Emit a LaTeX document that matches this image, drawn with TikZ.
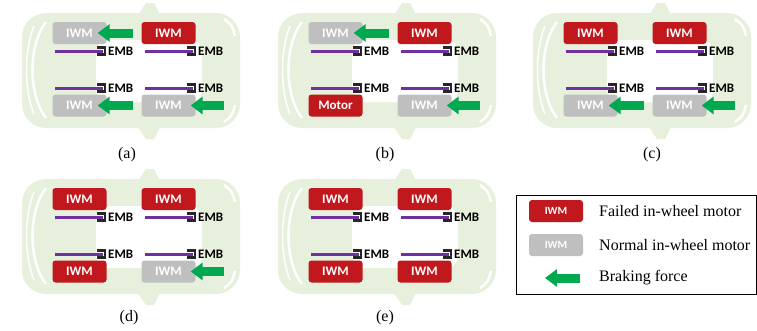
\documentclass[tikz,border=0pt]{standalone}
\usepackage{fontspec}
\setmainfont{Liberation Serif}
\newfontfamily\calibri{Carlito}
\usetikzlibrary{arrows.meta}

\definecolor{iwmred}{RGB}{192,24,28}
\definecolor{iwmgray}{RGB}{191,191,191}
\definecolor{brakegreen}{RGB}{0,168,80}
\definecolor{embpurple}{RGB}{112,48,160}
\definecolor{carbody}{RGB}{231,239,221}

\tikzset{
  failed/.style={fill=iwmred, rounded corners=3pt, minimum width=54pt, minimum height=22pt,
    inner sep=0pt, text=white, font=\calibri\bfseries\fontsize{13}{13}\selectfont},
  normal/.style={failed, fill=iwmgray},
  brake/.style={draw=brakegreen, line width=9pt, -{Triangle[length=12pt,width=17pt]}},
  disc/.style={draw=embpurple, line width=3pt},
  caliper/.style={draw=black!85, line width=2.2pt},
  emblabel/.style={font=\calibri\bfseries\fontsize{13}{13}\selectfont, inner sep=0pt, anchor=west},
  caption/.style={font=\fontsize{16}{16}\selectfont, inner sep=0pt},
}

% top view of the car, front to the right
\newcommand{\carbody}{%
  \fill[carbody] (138,15) -- (146,3) -- (154,3) -- (160,15) -- cycle; % mirrors
  \fill[carbody] (138,127) -- (146,139) -- (154,139) -- (160,127) -- cycle;
  \fill[carbody, rounded corners=24pt] (22,13) rectangle (240,128);
  \fill[white, rounded corners=12pt] (96,40) rectangle (202,102); % cabin
  \draw[white, line width=2.5pt] (46,22) .. controls (28,45) and (28,95) .. (46,118); % rear window
  \draw[white, line width=1.5pt] (34,26) .. controls (24,50) and (24,90) .. (34,114);
  \draw[white, line width=2.5pt] (224,19) .. controls (232,25) .. (235,36); % lights
  \draw[white, line width=2.5pt] (224,122) .. controls (232,116) .. (235,105);
}
% disc, caliper and label: name, end of disc, height
\newcommand{\emb}[3]{%
  \draw[disc] (#2-48,#3) -- (#2,#3);
  \draw[caliper] (#2-6,#3-3.5) -- (#2+2,#3-3.5) -- (#2+2,#3+3.5) -- (#2-6,#3+3.5);
  \node[emblabel] (#1) at (#2+5,#3) {EMB};
}

\begin{document}
\begin{tikzpicture}[x=1pt,y=-1pt]
  \useasboundingbox (0,0) rectangle (757,330);

  % (a) front left motor failed
  \begin{scope}
    \carbody
    \emb{aemb1}{103}{51} \emb{aemb2}{193}{51}
    \emb{aemb3}{103}{88} \emb{aemb4}{193}{88}
    \node[normal] (aRL) at (79.5,33) {IWM};
    \node[failed] (aFL) at (168.5,33) {IWM};
    \node[normal] (aRR) at (79.5,105.5) {IWM};
    \node[normal] (aFR) at (168.5,105.5) {IWM};
    \draw[brake] ([xshift=26pt]aRL.east) -- ([xshift=-9pt]aRL.east);
    \draw[brake] ([xshift=26pt]aRR.east) -- ([xshift=-9pt]aRR.east);
    \draw[brake] ([xshift=28pt]aFR.east) -- ([xshift=-5pt]aFR.east);
    \node[caption] (capa) at (127,155) {(a)};
  \end{scope}

  % (b) rear right wheel driven by a motor
  \begin{scope}[shift={(256,0)}]
    \carbody
    \emb{bemb1}{103}{51} \emb{bemb2}{193}{51}
    \emb{bemb3}{103}{88} \emb{bemb4}{193}{88}
    \node[normal] (bRL) at (79.5,33) {IWM};
    \node[failed] (bFL) at (168.5,33) {IWM};
    \node[failed] (bRR) at (79.5,105.5) {Motor};
    \node[normal] (bFR) at (168.5,105.5) {IWM};
    \draw[brake] ([xshift=26pt]bRL.east) -- ([xshift=-9pt]bRL.east);
    \draw[brake] ([xshift=28pt]bFR.east) -- ([xshift=-5pt]bFR.east);
    \node[caption] (capb) at (129,155) {(b)};
  \end{scope}

  % (c) both left motors failed
  \begin{scope}[shift={(511,0)}]
    \carbody
    \emb{cemb1}{103}{51} \emb{cemb2}{193}{51}
    \emb{cemb3}{103}{88} \emb{cemb4}{193}{88}
    \node[failed] (cRL) at (79.5,33) {IWM};
    \node[failed] (cFL) at (168.5,33) {IWM};
    \node[normal] (cRR) at (79.5,105.5) {IWM};
    \node[normal] (cFR) at (168.5,105.5) {IWM};
    \draw[brake] ([xshift=26pt]cRR.east) -- ([xshift=-9pt]cRR.east);
    \draw[brake] ([xshift=28pt]cFR.east) -- ([xshift=-5pt]cFR.east);
    \node[caption] (capc) at (141,155) {(c)};
  \end{scope}

  % (d) only front right motor works
  \begin{scope}[shift={(0,166)}]
    \carbody
    \emb{demb1}{103}{51} \emb{demb2}{193}{51}
    \emb{demb3}{103}{88} \emb{demb4}{193}{88}
    \node[failed] (dRL) at (79.5,33) {IWM};
    \node[failed] (dFL) at (168.5,33) {IWM};
    \node[failed] (dRR) at (79.5,105.5) {IWM};
    \node[normal] (dFR) at (168.5,105.5) {IWM};
    \draw[brake] ([xshift=28pt]dFR.east) -- ([xshift=-5pt]dFR.east);
    \node[caption] (capd) at (129,152) {(d)};
  \end{scope}

  % (e) all motors failed
  \begin{scope}[shift={(256,166)}]
    \carbody
    \emb{eemb1}{103}{51} \emb{eemb2}{193}{51}
    \emb{eemb3}{103}{88} \emb{eemb4}{193}{88}
    \node[failed] (eRL) at (79.5,33) {IWM};
    \node[failed] (eFL) at (168.5,33) {IWM};
    \node[failed] (eRR) at (79.5,105.5) {IWM};
    \node[failed] (eFR) at (168.5,105.5) {IWM};
    \node[caption] (cape) at (129,152) {(e)};
  \end{scope}

  % legend
  \draw[line width=0.8pt] (516,195) rectangle (756,294);
  \node[failed, font=\calibri\bfseries\fontsize{11}{11}\selectfont] (keyfail) at (556,211) {IWM};
  \node[normal, font=\calibri\bfseries\fontsize{11}{11}\selectfont] (keynorm) at (556,245) {IWM};
  \coordinate (keytail) at (580,278);
  \coordinate (keytip) at (545,278);
  \draw[brake] (keytail) -- (keytip);
  \node[caption, anchor=west] (txtfail) at (599,211) {Failed in-wheel motor};
  \node[caption, anchor=west] (txtnorm) at (599,245) {Normal in-wheel motor};
  \node[caption, anchor=west] (txtbrake) at (599,278) {Braking force};
\end{tikzpicture}
\end{document}
